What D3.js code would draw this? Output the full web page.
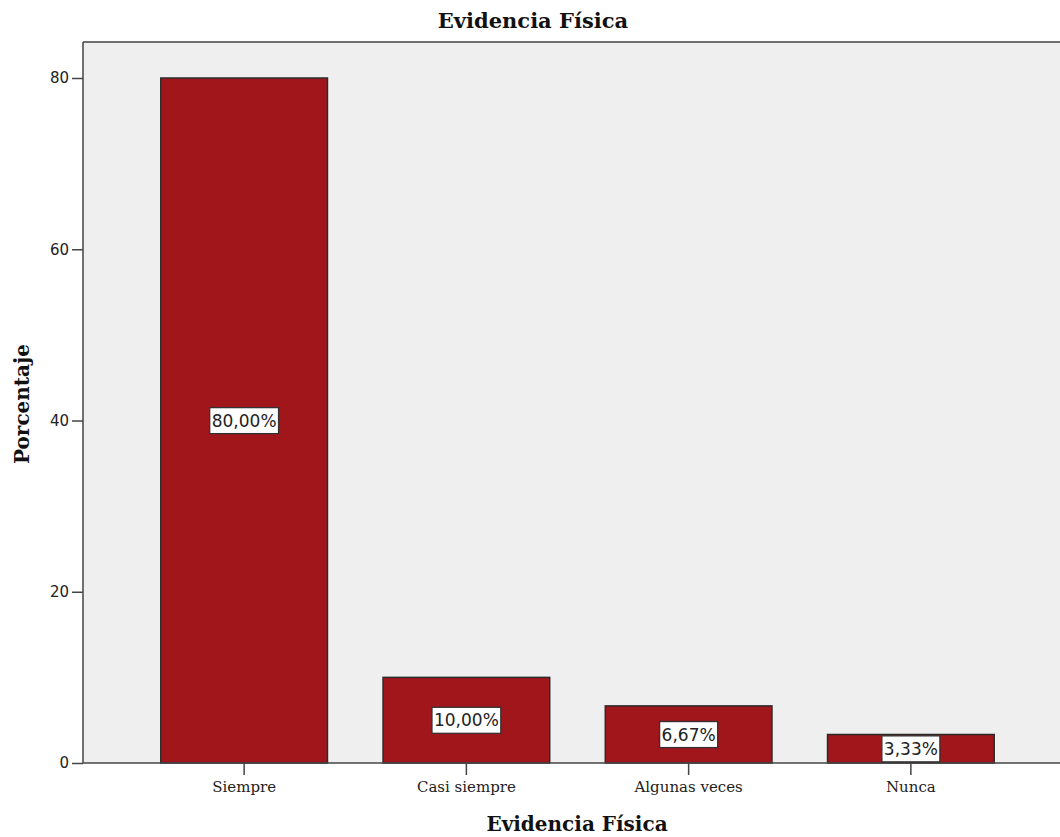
<!DOCTYPE html>
<html>
<head>
<meta charset="utf-8">
<script src="https://cdn.jsdelivr.net/npm/d3@7"></script>
<style>
  body { margin: 0; background: #fff; }
  svg { display: block; }
</style>
</head>
<body>
<svg id="chart" width="1060" height="837"></svg>
<script>
// data
var categories = ['Siempre', 'Casi siempre', 'Algunas veces', 'Nunca'];
var values = [80.00, 10.00, 6.67, 3.33];
var valueLabels = ['80,00%', '10,00%', '6,67%', '3,33%'];
var yTicks = [0, 20, 40, 60, 80];

var serif = '"DejaVu Serif", "Liberation Serif", serif';
var sans = '"DejaVu Sans", sans-serif';

var margin = { top: 42, left: 83, bottom: 74 };
var svgW = 1060, svgH = 837;
var plotW = 989; // frame runs past the right edge
var plotH = svgH - margin.top - margin.bottom;

var svg = d3.select('#chart');
var g = svg.append('g').attr('transform', 'translate(' + margin.left + ',' + margin.top + ')');

var x = d3.scaleBand()
	.domain(categories)
	.range([0, plotW])
	.paddingInner(0.25)
	.paddingOuter(0.35);

var y = d3.scaleLinear()
	.domain([0, 80])
	.range([plotH, 36]);

// plot background
g.append('rect')
	.attr('x', 0).attr('y', 0)
	.attr('width', plotW).attr('height', plotH)
	.attr('fill', '#efefef');

// bars
g.selectAll('.bar')
	.data(values)
	.enter().append('rect')
	.attr('class', 'bar')
	.attr('x', function(d, i) { return x(categories[i]); })
	.attr('y', function(d) { return y(d); })
	.attr('width', x.bandwidth())
	.attr('height', function(d) { return y(0) - y(d); })
	.attr('fill', '#a0161b')
	.attr('stroke', '#2b2b2b')
	.attr('stroke-width', 1.5);

// frame top
g.append('line').attr('x1', 0).attr('x2', plotW).attr('y1', 0).attr('y2', 0)
	.attr('stroke', '#444').attr('stroke-width', 1.5);

// axes
var axisY = d3.axisLeft(y).tickValues(yTicks).tickSize(11).tickPadding(3);
var gy = g.append('g').call(axisY);
gy.select('.domain').attr('d', 'M0,0V' + plotH);
gy.selectAll('path, line').attr('stroke', '#444').attr('stroke-width', 1.5);
gy.selectAll('text').attr('font-size', 15).attr('fill', '#222')
	.attr('font-family', sans);

var axisX = d3.axisBottom(x).tickSize(12).tickPadding(6);
var gx = g.append('g').attr('transform', 'translate(0,' + plotH + ')').call(axisX);
gx.select('.domain').attr('d', 'M0,0H' + plotW);
gx.selectAll('path, line').attr('stroke', '#444').attr('stroke-width', 1.5);
gx.selectAll('text').attr('font-size', 15).attr('fill', '#222')
	.attr('font-family', serif);

// value labels
var labels = g.selectAll('.vlabel')
	.data(values)
	.enter().append('g')
	.attr('class', 'vlabel')
	.attr('transform', function(d, i) {
		return 'translate(' + (x(categories[i]) + x.bandwidth() / 2) + ',' + (y(d / 2)) + ')';
	});

labels.append('text')
	.attr('text-anchor', 'middle')
	.attr('dy', '0.36em')
	.attr('font-size', 17)
	.attr('fill', '#222')
	.attr('font-family', sans)
	.text(function(d, i) { return valueLabels[i]; });

labels.each(function() {
	var grp = d3.select(this);
	var bb = grp.select('text').node().getBBox();
	grp.insert('rect', 'text')
		.attr('x', bb.x - 2).attr('y', bb.y - 3)
		.attr('width', bb.width + 4).attr('height', bb.height + 6)
		.attr('fill', '#fff')
		.attr('stroke', '#333')
		.attr('stroke-width', 1.3);
});

// titles
svg.append('text')
	.attr('x', 533).attr('y', 28)
	.attr('text-anchor', 'middle')
	.attr('font-family', serif)
	.attr('font-weight', 'bold').attr('font-size', 21)
	.attr('fill', '#111')
	.text('Evidencia Física');

svg.append('text')
	.attr('x', 577).attr('y', 831)
	.attr('text-anchor', 'middle')
	.attr('font-family', serif)
	.attr('font-weight', 'bold').attr('font-size', 20)
	.attr('fill', '#111')
	.text('Evidencia Física');

svg.append('text')
	.attr('transform', 'translate(29,404) rotate(-90)')
	.attr('text-anchor', 'middle')
	.attr('font-family', serif)
	.attr('font-weight', 'bold').attr('font-size', 20)
	.attr('fill', '#111')
	.text('Porcentaje');
</script>
</body>
</html>
